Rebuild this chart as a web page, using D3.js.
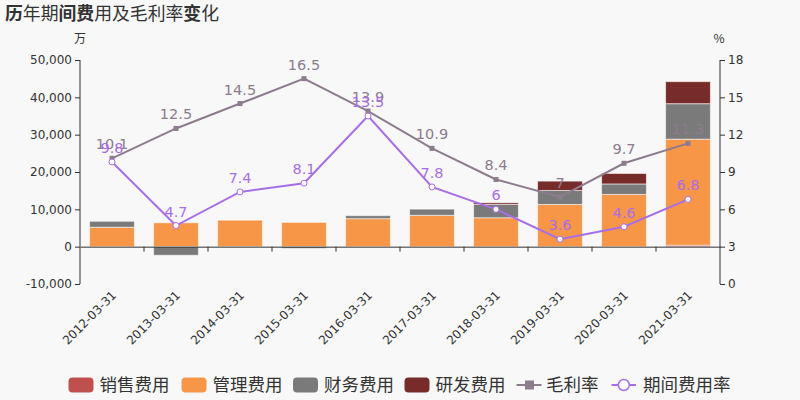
<!DOCTYPE html>
<html><head><meta charset="utf-8">
<script src="https://cdn.jsdelivr.net/npm/d3@7/dist/d3.min.js"></script>
<style>body{margin:0;background:#f8f8f8;}svg{display:block;font-family:"Noto Sans CJK SC","DejaVu Sans",sans-serif;}</style>
</head><body><svg id="c" width="800" height="400"></svg>
<script>
const categories=["2012-03-31","2013-03-31","2014-03-31","2015-03-31","2016-03-31","2017-03-31","2018-03-31","2019-03-31","2020-03-31","2021-03-31"];
const sales=[0,0,0,0,0,0,0,0,0,400];
const admin=[5200,6400,7100,6500,7500,8400,7750,11300,14000,28400];
const finance=[1600,-2300,-80,-450,800,1650,3550,3750,2800,9500];
const rnd=[0,0,0,0,0,0,450,2500,2800,5900];
const grossMargin=[10.1,12.5,14.5,16.5,13.9,10.9,8.4,7,9.7,11.3];
const expenseRate=[9.8,4.7,7.4,8.1,13.5,7.8,6,3.6,4.6,6.8];
const leftTicks=[-10000,0,10000,20000,30000,40000,50000];
const rightTicks=[0,3,6,9,12,15,18];
const seriesNames=["销售费用","管理费用","财务费用","研发费用"];
const colors=["#c0504d","#f79646","#7a7a7a","#772c2a"];
const lineColors={gm:"#8d7b8e",er:"#a86ee8"};

const svg=d3.select("#c");
const L=80,R=720,T=60,B=284;
const x=d3.scaleBand().domain(categories).range([L,R]).paddingInner(0.3).paddingOuter(0.15);
const xb=d3.scaleBand().domain(categories).range([L,R]);
const yL=d3.scaleLinear().domain([-10000,50000]).range([B,T]);
const yR=d3.scaleLinear().domain([0,18]).range([B,T]);

// title
const title=svg.append("text").attr("x",5).attr("y",20).attr("font-size",18).attr("fill","#333")
  .attr("textLength",214).attr("lengthAdjust","spacingAndGlyphs");
[["历",1],["年期",0],["间费",1],["用及毛利率",0],["变",1],["化",0]].forEach(([t,b])=>title.append("tspan").text(t).attr("font-weight",b?"bold":"normal"));

// units
svg.append("text").attr("x",80).attr("y",43).attr("text-anchor","middle").attr("font-size",12).attr("fill","#333").text("万");
svg.append("text").attr("x",719).attr("y",43).attr("text-anchor","middle").attr("font-size",12).attr("fill","#333").text("%");

// bars stacked (positive up, negative down)
const data=[sales,admin,finance,rnd];
categories.forEach((c,i)=>{
  let pos=0,neg=0;
  data.forEach((arr,k)=>{
    const v=arr[i]; if(!v) return;
    let y0,y1;
    if(v>=0){y0=pos;y1=pos+v;pos=y1;} else {y0=neg;y1=neg+v;neg=y1;}
    svg.append("rect").attr("x",x(c)).attr("width",x.bandwidth())
      .attr("y",yL(Math.max(y0,y1))).attr("height",Math.abs(yL(y0)-yL(y1)))
      .attr("fill",colors[k]).attr("stroke","rgba(255,255,255,0.55)").attr("stroke-width",1);
  });
});

// axes
const fmt=d3.formatLocale({decimal:".",thousands:",",grouping:[3],currency:["",""],minus:"-"}).format(",");
const gL=svg.append("g").attr("transform",`translate(${L},0)`).call(d3.axisLeft(yL).tickValues(leftTicks).tickFormat(fmt).tickSizeOuter(0).tickSize(5));
const gR=svg.append("g").attr("transform",`translate(${R},0)`).call(d3.axisRight(yR).tickValues(rightTicks).tickSizeOuter(0).tickSize(5));
const gX=svg.append("g").attr("transform",`translate(0,${yL(0)})`).call(d3.axisBottom(xb).tickSize(0).tickFormat(""));
gX.selectAll(".tick").remove();
categories.forEach((c,i)=>{ if(i>0) gX.append("line").attr("x1",xb(c)).attr("x2",xb(c)).attr("y1",0).attr("y2",5).attr("stroke","#333");});
[gL,gR,gX].forEach(g=>{g.selectAll("path,line").attr("stroke","#333");g.selectAll("text").attr("fill","#333").attr("font-size",12).attr("font-family","DejaVu Sans");});
gL.select(".domain").attr("d",`M0,${T}V${B}`);
gR.select(".domain").attr("d",`M0,${T}V${B}`);

// x labels
categories.forEach(c=>{
  const cx=xb(c)+xb.bandwidth()/2;
  svg.append("text").attr("transform",`translate(${cx+2},${B+9}) rotate(-45)`).attr("text-anchor","end")
    .attr("dy","0.35em").attr("font-size",12).attr("fill","#333").attr("font-family","DejaVu Sans").text(c);
});

const cxf=(c)=>xb(c)+xb.bandwidth()/2;
// lines
const line=(arr)=>d3.line().x((d,i)=>cxf(categories[i])).y(d=>yR(d))(arr);
svg.append("path").attr("d",line(grossMargin)).attr("fill","none").attr("stroke",lineColors.gm).attr("stroke-width",2);
svg.append("path").attr("d",line(expenseRate)).attr("fill","none").attr("stroke",lineColors.er).attr("stroke-width",2);
grossMargin.forEach((v,i)=>{
  svg.append("rect").attr("x",cxf(categories[i])-2.5).attr("y",yR(v)-2.5).attr("width",5).attr("height",5).attr("fill",lineColors.gm);
});
expenseRate.forEach((v,i)=>{
  svg.append("circle").attr("cx",cxf(categories[i])).attr("cy",yR(v)).attr("r",3).attr("fill","#fff").attr("stroke",lineColors.er).attr("stroke-width",1);
});
grossMargin.forEach((v,i)=>{
  svg.append("text").attr("x",cxf(categories[i])).attr("y",yR(v)-9).attr("text-anchor","middle").attr("font-size",14.5).attr("font-family","DejaVu Sans").attr("fill",lineColors.gm).text(v);
});
expenseRate.forEach((v,i)=>{
  svg.append("text").attr("x",cxf(categories[i])).attr("y",yR(v)-9).attr("text-anchor","middle").attr("font-size",14.5).attr("font-family","DejaVu Sans").attr("fill",lineColors.er).text(v);
});

// legend
const ly=385, fs=17.5;
const legX=[68.5,181.5,293,404.5];
seriesNames.forEach((n,k)=>{
  svg.append("rect").attr("x",legX[k]).attr("y",ly-7.5).attr("width",25).attr("height",15).attr("rx",4).attr("fill",colors[k]);
  svg.append("text").attr("x",legX[k]+31).attr("y",ly).attr("dy","0.36em").attr("font-size",fs).attr("fill","#333").text(n);
});
// line legends
svg.append("line").attr("x1",516.5).attr("x2",541.5).attr("y1",ly).attr("y2",ly).attr("stroke",lineColors.gm).attr("stroke-width",2);
svg.append("rect").attr("x",525).attr("y",ly-4.5).attr("width",9).attr("height",9).attr("fill",lineColors.gm);
svg.append("text").attr("x",546).attr("y",ly).attr("dy","0.36em").attr("font-size",fs).attr("fill","#333").text("毛利率");
svg.append("line").attr("x1",611.5).attr("x2",636).attr("y1",ly).attr("y2",ly).attr("stroke",lineColors.er).attr("stroke-width",2);
svg.append("circle").attr("cx",623.8).attr("cy",ly).attr("r",5.5).attr("fill","#fff").attr("stroke",lineColors.er).attr("stroke-width",1.5);
svg.append("text").attr("x",643).attr("y",ly).attr("dy","0.36em").attr("font-size",fs).attr("fill","#333").text("期间费用率");
</script></body></html>
